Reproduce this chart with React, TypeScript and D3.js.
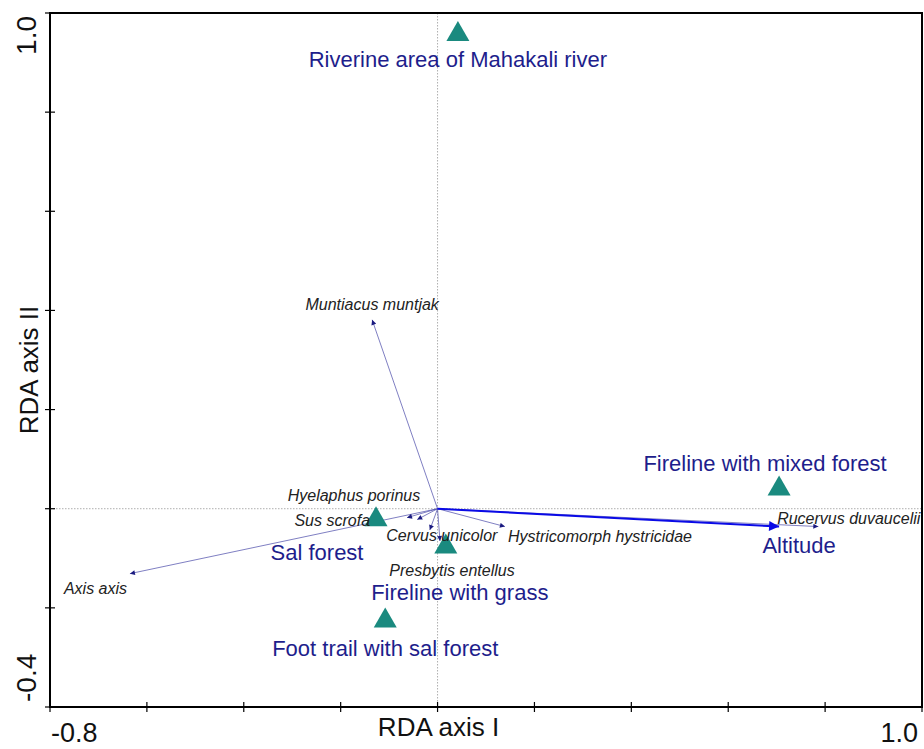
import React from 'react';
import { scaleLinear } from 'd3';

// RDA biplot: species arrows, sites (triangles) and one environmental arrow
const xTicks = [-0.8, -0.6, -0.4, -0.2, 0, 0.2, 0.4, 0.6, 0.8, 1.0];
const yTicks = [-0.4, -0.2, 0, 0.2, 0.4, 0.6, 0.8, 1.0];

const speciesNames = [
  'Muntiacus muntjak',
  'Axis axis',
  'Rucervus duvaucelii',
  'Hystricomorph hystricidae',
  'Cervus unicolor',
  'Presbytis entellus',
  'Sus scrofa',
  'Hyelaphus porinus',
];
const speciesX = [-0.135, -0.635, 0.786, 0.139, -0.016, 0.005, -0.063, -0.042];
const speciesY = [0.381, -0.131, -0.036, -0.036, -0.043, -0.065, -0.018, -0.022];

const siteNames = [
  'Riverine area of Mahakali river',
  'Fireline with mixed forest',
  'Sal forest',
  'Fireline with grass',
  'Foot trail with sal forest',
];
const siteX = [0.042, 0.705, -0.127, 0.017, -0.108];
const siteY = [0.957, 0.04, -0.022, -0.077, -0.226];

const envNames = ['Altitude'];
const envX = [0.705];
const envY = [-0.036];

// label placement (pixels relative to point)
const speciesLabel: Record<string, [string, number, number]> = {
  'Muntiacus muntjak': ['middle', 0, -10],
  'Axis axis': ['start', -66, 20],
  'Rucervus duvaucelii': ['end', 102, -3],
  'Hystricomorph hystricidae': ['start', 3, 15],
  'Cervus unicolor': ['middle', 12, 11],
  'Presbytis entellus': ['middle', 12, 35],
  'Sus scrofa': ['end', -37, 8],
  'Hyelaphus porinus': ['end', 3, -19],
};
const siteLabel: Record<string, [number, number]> = {
  'Riverine area of Mahakali river': [0, 33],
  'Fireline with mixed forest': [-14, -18],
  'Sal forest': [-59, 40],
  'Fireline with grass': [14, 53],
  'Foot trail with sal forest': [0, 35],
};
const envLabel: Record<string, [number, number]> = {
  Altitude: [20, 26],
};

const W = 924;
const H = 749;
const left = 50, right = 922, top = 13, bottom = 707;

export default function App() {
  const x = scaleLinear().domain([-0.8, 1.0]).range([left, right]);
  const y = scaleLinear().domain([-0.4, 1.0]).range([bottom, top]);
  const x0 = x(0);
  const y0 = y(0);
  const font = 'Arial, "Liberation Sans", sans-serif';
  const siteColor = '#1e1e8c';
  const triColor = '#1a8a7f';

  const tri = (cx: number, cy: number) => {
    const w = 23, h = 20;
    return `M${cx},${cy - (2 * h) / 3} L${cx + w / 2},${cy + h / 3} L${cx - w / 2},${cy + h / 3} Z`;
  };

  return (
    <svg width={W} height={H} style={{ position: 'absolute', left: 0, top: 0, background: '#fff' }}>
      <defs>
        <marker id="sp" viewBox="0 0 10 10" refX="10" refY="5" markerWidth="8" markerHeight="5" markerUnits="userSpaceOnUse" orient="auto">
          <path d="M0,0 L10,5 L0,10 Z" fill="#1a1a80" />
        </marker>
        <marker id="env" viewBox="0 0 10 10" refX="10" refY="5" markerWidth="16" markerHeight="10" markerUnits="userSpaceOnUse" orient="auto">
          <path d="M0,0 L10,5 L0,10 Z" fill="#0a0ae6" />
        </marker>
      </defs>

      {/* zero lines */}
      <line x1={x0} x2={x0} y1={top} y2={bottom} stroke="#999" strokeWidth={0.8} strokeDasharray="1.5,1.5" />
      <line x1={left} x2={right} y1={y0} y2={y0} stroke="#999" strokeWidth={0.8} strokeDasharray="1.5,1.5" />

      {/* species arrows */}
      {speciesNames.map((n, i) => (
        <line key={n} x1={x0} y1={y0} x2={x(speciesX[i])} y2={y(speciesY[i])} stroke="#4848a8" strokeWidth={0.7} markerEnd="url(#sp)" />
      ))}

      {/* environmental arrow */}
      {envNames.map((n, i) => (
        <line key={n} x1={x0} y1={y0} x2={x(envX[i])} y2={y(envY[i])} stroke="#0a0ae6" strokeWidth={2} markerEnd="url(#env)" />
      ))}

      {/* sites */}
      {siteNames.map((n, i) => (
        <path key={n} d={tri(x(siteX[i]), y(siteY[i]))} fill={triColor} />
      ))}

      {/* species labels */}
      {speciesNames.map((n, i) => {
        const [anchor, dx, dy] = speciesLabel[n];
        return (
          <text key={n} x={x(speciesX[i]) + dx} y={y(speciesY[i]) + dy} textAnchor={anchor as any}
            fontFamily={font} fontStyle="italic" fontSize={16} fill="#222">{n}</text>
        );
      })}

      {/* site labels */}
      {siteNames.map((n, i) => {
        const [dx, dy] = siteLabel[n];
        return (
          <text key={n} x={x(siteX[i]) + dx} y={y(siteY[i]) + dy} textAnchor="middle"
            fontFamily={font} fontSize={22} fill={siteColor}>{n}</text>
        );
      })}
      {envNames.map((n, i) => {
        const [dx, dy] = envLabel[n];
        return (
          <text key={n} x={x(envX[i]) + dx} y={y(envY[i]) + dy} textAnchor="middle"
            fontFamily={font} fontSize={22} fill={siteColor}>{n}</text>
        );
      })}

      {/* frame */}
      <rect x={left} y={top} width={right - left} height={bottom - top} fill="none" stroke="#000" strokeWidth={2} />

      {/* ticks */}
      {xTicks.map(t => (
        <line key={'xt' + t} x1={x(t)} x2={x(t)} y1={bottom - 5} y2={bottom + 5} stroke="#000" strokeWidth={1.2} />
      ))}
      {yTicks.map(t => (
        <line key={'yt' + t} x1={left - 5} x2={left + 5} y1={y(t)} y2={y(t)} stroke="#000" strokeWidth={1.2} />
      ))}

      {/* axis labels */}
      <text x={x(-0.8) + 1} y={742} fontFamily={font} fontSize={27} fill="#111">-0.8</text>
      <text x={x(1.0) - 4} y={742} textAnchor="end" fontFamily={font} fontSize={27} fill="#111">1.0</text>
      <text x={x0 + 1} y={736} textAnchor="middle" fontFamily={font} fontSize={26} fill="#111">RDA axis I</text>
      <text transform={`translate(36,${y(1.0) + 3}) rotate(-90)`} textAnchor="end" fontFamily={font} fontSize={28} fill="#111">1.0</text>
      <text transform={`translate(36,${y(-0.4) - 5}) rotate(-90)`} textAnchor="start" fontFamily={font} fontSize={28} fill="#111">-0.4</text>
      <text transform={`translate(38,${370}) rotate(-90)`} textAnchor="middle" fontFamily={font} fontSize={26} fill="#111">RDA axis II</text>
    </svg>
  );
}
